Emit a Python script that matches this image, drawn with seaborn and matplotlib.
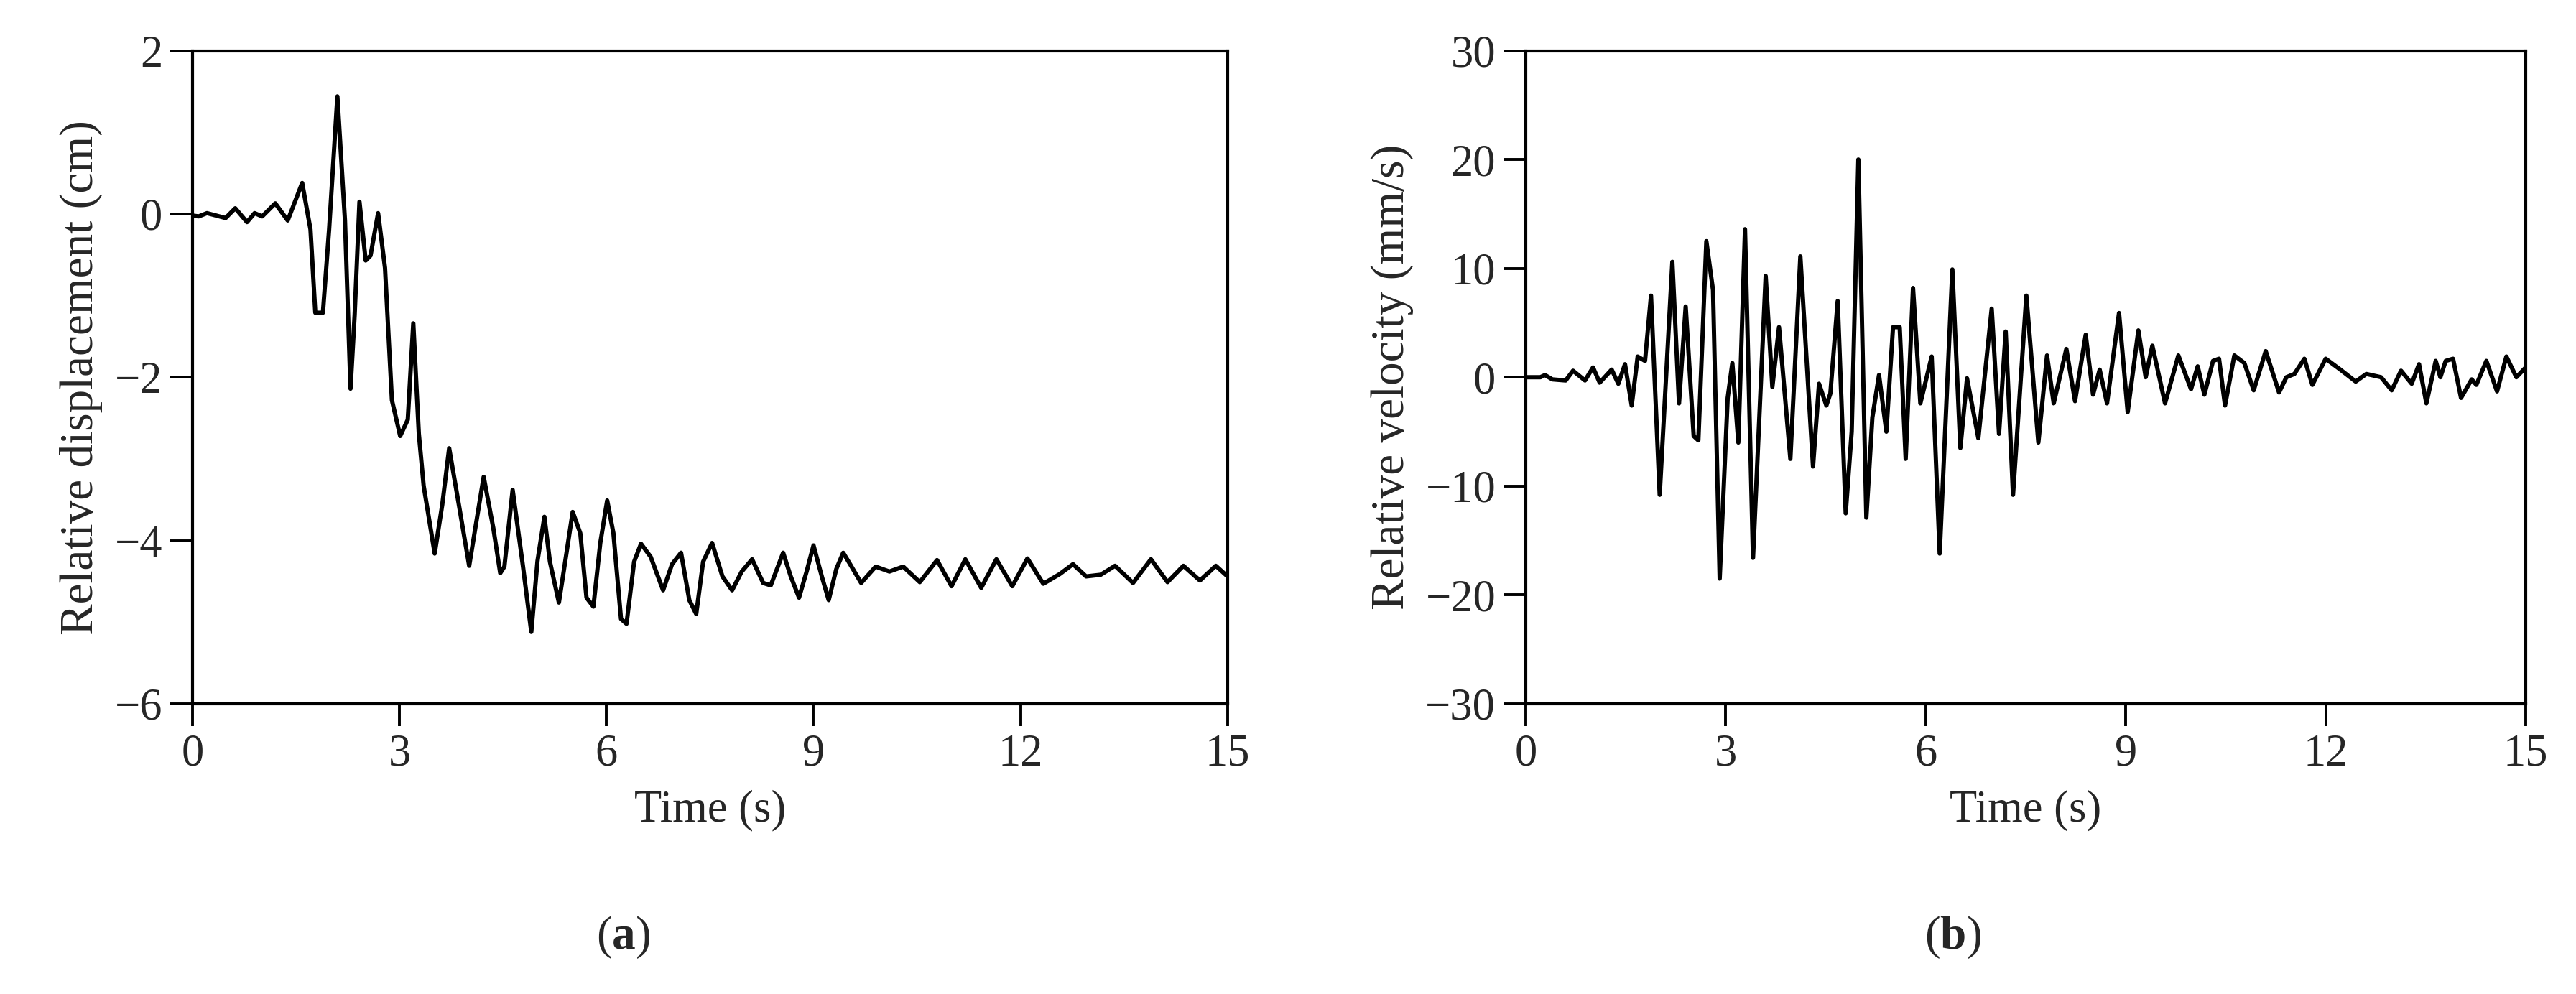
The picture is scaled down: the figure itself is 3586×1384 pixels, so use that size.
import matplotlib
matplotlib.use("Agg")
import matplotlib.pyplot as plt
import seaborn as sns

# (a) relative displacement
disp_time = [0.00, 0.09, 0.21, 0.48, 0.62, 0.79, 0.90, 1.01, 1.20, 1.38,
             1.59, 1.71, 1.78, 1.89, 1.98, 2.10, 2.21, 2.29, 2.35, 2.42,
             2.51, 2.58, 2.69, 2.79, 2.89, 3.01, 3.12, 3.20, 3.28, 3.35,
             3.51, 3.62, 3.72, 3.86, 4.01, 4.22, 4.36, 4.46, 4.52, 4.64,
             4.79, 4.91, 5.00, 5.10, 5.18, 5.31, 5.39, 5.51, 5.62, 5.71,
             5.81, 5.91, 6.01, 6.10, 6.21, 6.29, 6.40, 6.50, 6.64, 6.82,
             6.95, 7.08, 7.20, 7.30, 7.40, 7.53, 7.68, 7.82, 7.96, 8.11,
             8.27, 8.38, 8.56, 8.67, 8.79, 8.90, 9.00, 9.12, 9.22, 9.33,
             9.43, 9.53, 9.69, 9.90, 10.10, 10.30, 10.54, 10.79, 11.00, 11.20,
             11.43, 11.65, 11.88, 12.10, 12.33, 12.57, 12.76, 12.95, 13.16, 13.37,
             13.63, 13.89, 14.13, 14.36, 14.60, 14.83, 15.00]
disp_cm = [-0.02, -0.03, 0.01, -0.05, 0.07, -0.10, 0.01, -0.03, 0.13, -0.08,
           0.38, -0.19, -1.21, -1.21, -0.19, 1.44, -0.08, -2.14, -1.24, 0.15,
           -0.57, -0.51, 0.01, -0.66, -2.28, -2.72, -2.52, -1.34, -2.69, -3.33,
           -4.16, -3.56, -2.87, -3.56, -4.31, -3.22, -3.85, -4.40, -4.32, -3.38,
           -4.32, -5.12, -4.25, -3.71, -4.26, -4.76, -4.32, -3.65, -3.91, -4.70,
           -4.81, -4.03, -3.51, -3.91, -4.96, -5.02, -4.26, -4.04, -4.20, -4.61,
           -4.29, -4.15, -4.73, -4.90, -4.26, -4.03, -4.44, -4.61, -4.38, -4.23,
           -4.52, -4.55, -4.15, -4.44, -4.70, -4.38, -4.06, -4.44, -4.73, -4.35,
           -4.15, -4.29, -4.52, -4.32, -4.38, -4.32, -4.51, -4.24, -4.56, -4.23,
           -4.58, -4.23, -4.56, -4.22, -4.53, -4.41, -4.29, -4.44, -4.42, -4.31,
           -4.52, -4.23, -4.51, -4.31, -4.49, -4.31, -4.44]

# (b) relative velocity
vel_time = [0.00, 0.22, 0.29, 0.40, 0.60, 0.71, 0.89, 1.01, 1.11, 1.29,
            1.39, 1.49, 1.59, 1.68, 1.79, 1.88, 2.01, 2.20, 2.30, 2.40,
            2.52, 2.59, 2.71, 2.81, 2.91, 3.03, 3.10, 3.19, 3.29, 3.41,
            3.60, 3.70, 3.80, 3.97, 4.12, 4.31, 4.40, 4.51, 4.57, 4.68,
            4.80, 4.89, 4.99, 5.11, 5.20, 5.30, 5.41, 5.51, 5.61, 5.70,
            5.81, 5.92, 6.09, 6.21, 6.40, 6.52, 6.62, 6.79, 6.99, 7.10,
            7.20, 7.31, 7.51, 7.69, 7.82, 7.92, 8.11, 8.24, 8.40, 8.51,
            8.61, 8.72, 8.90, 9.03, 9.19, 9.30, 9.40, 9.59, 9.79, 9.98,
            10.08, 10.18, 10.31, 10.40, 10.49, 10.63, 10.78, 10.92, 11.10, 11.30,
            11.41, 11.53, 11.68, 11.80, 12.00, 12.22, 12.45, 12.61, 12.83, 12.99,
            13.13, 13.29, 13.40, 13.51, 13.65, 13.72, 13.80, 13.91, 14.03, 14.19,
            14.26, 14.41, 14.57, 14.71, 14.86, 15.00]
vel_mms = [0.0, 0.0, 0.2, -0.2, -0.3, 0.6, -0.3, 0.9, -0.5, 0.7,
           -0.6, 1.2, -2.6, 1.9, 1.5, 7.5, -10.8, 10.6, -2.4, 6.5,
           -5.4, -5.8, 12.5, 8.0, -18.5, -1.9, 1.3, -6.0, 13.6, -16.6,
           9.3, -0.9, 4.6, -7.5, 11.1, -8.2, -0.6, -2.6, -1.5, 7.0,
           -12.5, -5.0, 20.0, -12.9, -3.7, 0.2, -5.0, 4.6, 4.6, -7.5,
           8.2, -2.4, 1.9, -16.2, 9.9, -6.5, -0.1, -5.6, 6.3, -5.2,
           4.2, -10.8, 7.5, -6.0, 2.0, -2.4, 2.6, -2.2, 3.9, -1.6,
           0.7, -2.4, 5.9, -3.2, 4.3, 0.0, 2.9, -2.4, 2.0, -1.1,
           1.0, -1.6, 1.5, 1.7, -2.6, 2.0, 1.3, -1.2, 2.4, -1.4,
           0.0, 0.3, 1.7, -0.7, 1.7, 0.7, -0.4, 0.3, 0.0, -1.2,
           0.6, -0.6, 1.2, -2.4, 1.5, 0.0, 1.5, 1.7, -1.9, -0.2,
           -0.7, 1.5, -1.3, 1.9, 0.0, 0.9]

time_ticks = [0, 3, 6, 9, 12, 15]
disp_ticks = [-6, -4, -2, 0, 2]
vel_ticks = [-30, -20, -10, 0, 10, 20, 30]

sns.set_style("ticks")
plt.rcParams['font.family'] = ['Liberation Serif', 'DejaVu Serif']
plt.rcParams['mathtext.fontset'] = 'custom'
plt.rcParams['mathtext.rm'] = 'Liberation Serif'
plt.rcParams['mathtext.bf'] = 'Liberation Serif:bold'

fig = plt.figure(figsize=(35.87, 13.84), dpi=100)
ax1 = fig.add_axes([0.0747, 0.292, 0.4017, 0.657])
ax2 = fig.add_axes([0.5921, 0.292, 0.3881, 0.657])

panels = [
    (ax1, disp_time, disp_cm, disp_ticks, "Relative displacement (cm)", "a", 0.242),
    (ax2, vel_time, vel_mms, vel_ticks, "Relative velocity (mm/s)", "b", 0.758),
]

for ax, t, y, yt, ylab, tag, xpos in panels:
    sns.lineplot(x=t, y=y, ax=ax, color="black", linewidth=4.3,
                 estimator=None, sort=False)
    ax.lines[0].set_solid_joinstyle("round")
    ax.lines[0].set_solid_capstyle("round")
    ax.set_xlim(0, 15)
    ax.set_ylim(yt[0], yt[-1])
    ax.set_xticks(time_ticks)
    ax.set_yticks(yt)
    ax.set_xlabel("Time (s)", fontsize=45, labelpad=14)
    ax.set_ylabel(ylab, fontsize=47, labelpad=12)
    ax.tick_params(axis="both", direction="out", length=22, width=2.8,
                   labelsize=45, pad=8, color="black")
    for s in ax.spines.values():
        s.set_visible(True)
        s.set_linewidth(3)
        s.set_color("black")
    fig.text(xpos, 0.057, "($\\mathbf{" + tag + "}$)", fontsize=47,
             ha="center", va="center")

fig.savefig("out.png", dpi=100, facecolor="white")
